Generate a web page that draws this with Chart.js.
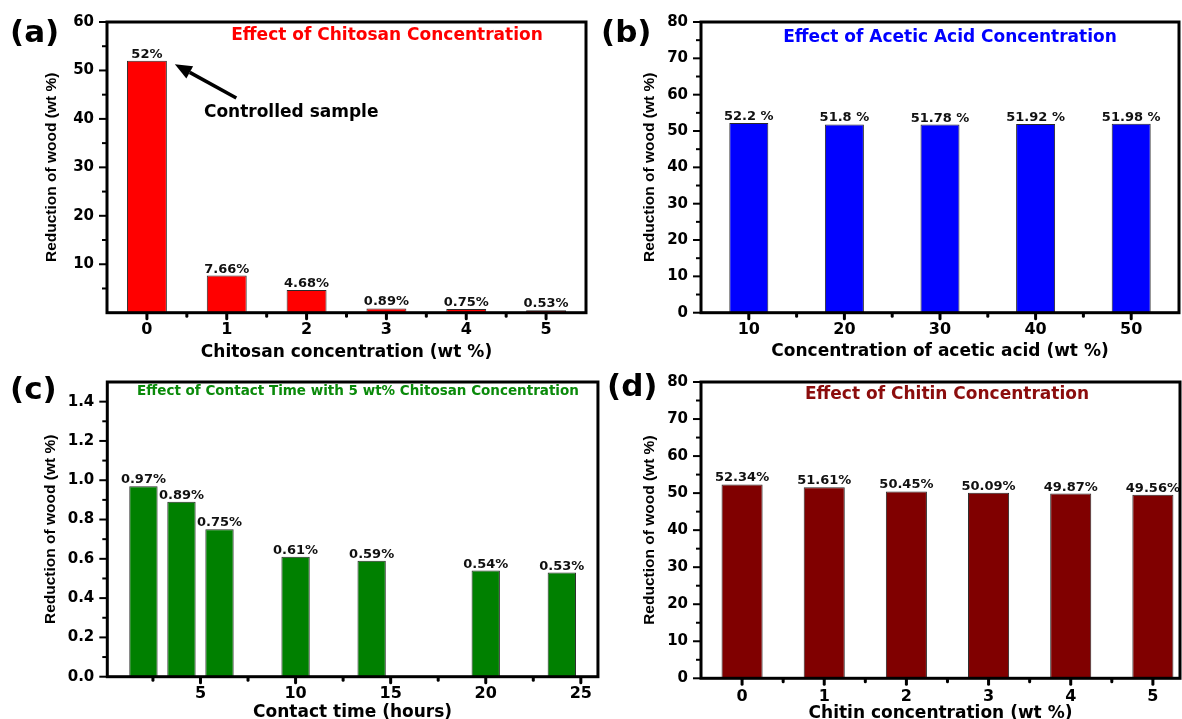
<!DOCTYPE html>
<html><head><meta charset="utf-8">
<script src="https://cdn.jsdelivr.net/npm/chart.js@4.4.0/dist/chart.umd.min.js"></script>
<style>
html,body{margin:0;padding:0;background:#fff;width:1182px;height:719px;overflow:hidden;position:relative}
canvas{position:absolute}
</style></head><body>
<canvas id="ca" width="591" height="362" style="left:0;top:0"></canvas>
<canvas id="cb" width="591" height="362" style="left:591px;top:0"></canvas>
<canvas id="cc" width="600" height="365" style="left:0;top:360px"></canvas>
<canvas id="cd" width="591" height="365" style="left:591px;top:360px"></canvas>
<script>
// ---------- data ----------
const chitosanConc = [0, 1, 2, 3, 4, 5];
const chitosanReduction = [52, 7.66, 4.68, 0.89, 0.75, 0.53];
const chitosanLabels = ['52%', '7.66%', '4.68%', '0.89%', '0.75%', '0.53%'];

const aceticConc = [10, 20, 30, 40, 50];
const aceticReduction = [52.2, 51.8, 51.78, 51.92, 51.98];
const aceticLabels = ['52.2 %', '51.8 %', '51.78 %', '51.92 %', '51.98 %'];

const contactTime = [2, 4, 6, 10, 14, 20, 24];
const contactReduction = [0.97, 0.89, 0.75, 0.61, 0.59, 0.54, 0.53];
const contactLabels = ['0.97%', '0.89%', '0.75%', '0.61%', '0.59%', '0.54%', '0.53%'];

const chitinConc = [0, 1, 2, 3, 4, 5];
const chitinReduction = [52.34, 51.61, 50.45, 50.09, 49.87, 49.56];
const chitinLabels = ['52.34%', '51.61%', '50.45%', '50.09%', '49.87%', '49.56%'];

// ---------- tick labels ----------
const aXTicks = [0, 1, 2, 3, 4, 5];
const aYTicks = [10, 20, 30, 40, 50, 60];
const bXTicks = [10, 20, 30, 40, 50];
const bYTicks = [0, 10, 20, 30, 40, 50, 60, 70, 80];
const cXTicks = [5, 10, 15, 20, 25];
const cYTicks = [0, 0.2, 0.4, 0.6, 0.8, 1.0, 1.2, 1.4];
const dXTicks = [0, 1, 2, 3, 4, 5];
const dYTicks = [0, 10, 20, 30, 40, 50, 60, 70, 80];

function minorTicks(major, min, max) {
  const step = major[1] - major[0];
  const out = major.map(v => v - step / 2);
  out.push(major[major.length - 1] + step / 2);
  return out.filter(v => v > min + 1e-9 && v < max - 1e-9);
}

const FAM = '"DejaVu Sans", "Liberation Sans", Arial, sans-serif';

const decoPlugin = {
  id: 'deco',
  afterDraw(chart, args, o) {
    const {ctx, chartArea: ca, scales: {x, y}} = chart;
    ctx.save();
    // value labels
    ctx.fillStyle = '#111';
    ctx.font = 'bold 13px ' + FAM;
    ctx.textAlign = 'center';
    ctx.textBaseline = 'alphabetic';
    chart.getDatasetMeta(0).data.forEach((bar, i) => {
      ctx.fillText(o.valueLabels[i], bar.x, bar.y - 3);
    });
    // frame
    ctx.strokeStyle = '#000';
    ctx.lineWidth = 3;
    ctx.strokeRect(ca.left, ca.top, ca.right - ca.left, ca.bottom - ca.top);
    // y ticks
    ctx.lineWidth = 2;
    o.yMajor.forEach(v => {
      const py = y.getPixelForValue(v);
      ctx.beginPath(); ctx.moveTo(ca.left - 1, py); ctx.lineTo(ca.left - 8, py); ctx.stroke();
    });
    minorTicks(o.yMajor, y.min, y.max).forEach(v => {
      const py = y.getPixelForValue(v);
      ctx.beginPath(); ctx.moveTo(ca.left - 1, py); ctx.lineTo(ca.left - 5, py); ctx.stroke();
    });
    // x ticks
    ctx.lineWidth = 3;
    ctx.lineCap = 'round';
    o.xMajor.forEach(v => {
      const px = x.getPixelForValue(v);
      ctx.beginPath(); ctx.moveTo(px, ca.bottom + 1); ctx.lineTo(px, ca.bottom + 6); ctx.stroke();
    });
    minorTicks(o.xMajor, x.min, x.max).forEach(v => {
      const px = x.getPixelForValue(v);
      ctx.beginPath(); ctx.moveTo(px, ca.bottom + 1); ctx.lineTo(px, ca.bottom + 3.5); ctx.stroke();
    });
    ctx.lineCap = 'butt';
    // inner title
    ctx.textBaseline = 'middle';
    ctx.textAlign = 'center';
    ctx.fillStyle = o.title.color;
    ctx.font = 'bold ' + o.title.size + 'px ' + FAM;
    ctx.fillText(o.title.text, o.title.x, o.title.y);
    // panel letter
    ctx.fillStyle = '#000';
    ctx.textAlign = 'left';
    ctx.font = 'bold 31px ' + FAM;
    ctx.fillText(o.letter.text, o.letter.x, o.letter.y);
    // annotation arrow
    if (o.arrow) {
      const a = o.arrow;
      const x0 = x.getPixelForValue(a.from[0]), y0 = y.getPixelForValue(a.from[1]);
      const x1 = x.getPixelForValue(a.to[0]), y1 = y.getPixelForValue(a.to[1]);
      const ang = Math.atan2(y1 - y0, x1 - x0);
      const hl = 17, hw = 7;
      const bx = x1 - hl * Math.cos(ang), by = y1 - hl * Math.sin(ang);
      ctx.strokeStyle = '#000';
      ctx.lineWidth = 3.5;
      ctx.beginPath(); ctx.moveTo(x0, y0); ctx.lineTo(bx, by); ctx.stroke();
      ctx.beginPath();
      ctx.moveTo(x1, y1);
      ctx.lineTo(bx + hw * Math.sin(ang), by - hw * Math.cos(ang));
      ctx.lineTo(bx - hw * Math.sin(ang), by + hw * Math.cos(ang));
      ctx.closePath(); ctx.fillStyle = '#000'; ctx.fill();
      ctx.font = 'bold 17px ' + FAM;
      ctx.textAlign = 'left';
      ctx.fillText(a.text, x.getPixelForValue(a.textAt[0]), y.getPixelForValue(a.textAt[1]));
    }
    ctx.restore();
  }
};

function makeChart(id, c) {
  return new Chart(document.getElementById(id), {
    type: 'bar',
    data: {
      datasets: [{
        data: c.xs.map((v, i) => ({x: v, y: c.ys[i]})),
        backgroundColor: c.color,
        borderColor: '#2a2a2a',
        borderWidth: 1,
        categoryPercentage: 1,
        barPercentage: c.barPct
      }]
    },
    options: {
      responsive: false,
      animation: false,
      devicePixelRatio: 1,
      layout: {padding: c.padding},
      plugins: {
        legend: {display: false},
        tooltip: {enabled: false},
        deco: {valueLabels: c.labels, xMajor: c.xTicks, yMajor: c.yTicks, title: c.title, letter: c.letter, arrow: c.arrow}
      },
      scales: {
        x: {
          type: 'linear', position: 'bottom', min: c.xMin, max: c.xMax, offset: false,
          grid: {display: false, drawTicks: false}, border: {display: false},
          afterBuildTicks: s => { s.ticks = c.xTicks.map(v => ({value: v})); },
          afterFit: s => { s.height = c.xH; },
          ticks: {padding: c.xTickPad, color: '#000', autoSkip: false, maxRotation: 0, minRotation: 0,
                  font: {family: FAM, weight: 'bold', size: 16}, callback: v => String(v)},
          title: {display: true, text: c.xTitle, color: '#000',
                  font: {family: FAM, weight: 'bold', size: 17, lineHeight: 1},
                  padding: {top: 0, bottom: c.xTitlePad}}
        },
        y: {
          type: 'linear', position: 'left', min: c.yMin, max: c.yMax,
          grid: {display: false, drawTicks: false}, border: {display: false},
          afterBuildTicks: s => { s.ticks = c.yTicks.map(v => ({value: v})); },
          afterFit: s => { s.width = c.yW; },
          ticks: {padding: 13, color: '#000', autoSkip: false,
                  font: {family: FAM, weight: 'bold', size: 15}, callback: c.yFmt || (v => String(v))},
          title: {display: true, text: 'Reduction of wood (wt %)', color: '#000',
                  font: {family: '"Liberation Sans", Arial, sans-serif', weight: 'bold', size: 15.5, lineHeight: 1},
                  padding: {top: c.yTitlePad, bottom: 0}}
        }
      }
    },
    plugins: [decoPlugin]
  });
}

makeChart('ca', {
  xs: chitosanConc, ys: chitosanReduction, labels: chitosanLabels, color: '#ff0000',
  xMin: -0.5, xMax: 5.5, yMin: 0, yMax: 60, xTicks: aXTicks, yTicks: aYTicks,
  barPct: 0.5, padding: {top: 21, right: 5, left: 0, bottom: 0}, yW: 107, xH: 49.3,
  xTickPad: 8, xTitlePad: 1, yTitlePad: 44,
  xTitle: 'Chitosan concentration (wt %)',
  title: {text: 'Effect of Chitosan Concentration', color: '#ff0000', x: 387, y: 36, size: 17},
  letter: {text: '(a)', x: 10, y: 34},
  arrow: {from: [1.12, 44.3], to: [0.35, 51.3], text: 'Controlled sample', textAt: [0.714, 41.3]}
});

makeChart('cb', {
  xs: aceticConc, ys: aceticReduction, labels: aceticLabels, color: '#0000ff',
  xMin: 5, xMax: 55, yMin: 0, yMax: 80, xTicks: bXTicks, yTicks: bYTicks,
  barPct: 0.408, padding: {top: 20.7, right: 3, left: 0, bottom: 0}, yW: 110, xH: 49.3,
  xTickPad: 8, xTitlePad: 2, yTitlePad: 51,
  xTitle: 'Concentration of acetic acid (wt %)',
  title: {text: 'Effect of Acetic Acid Concentration', color: '#0000ff', x: 359, y: 38, size: 17},
  letter: {text: '(b)', x: 10, y: 34}
});

makeChart('cc', {
  xs: contactTime, ys: contactReduction, labels: contactLabels, color: '#008000',
  xMin: 0.1, xMax: 25.9, yMin: 0, yMax: 1.5, xTicks: cXTicks, yTicks: cYTicks,
  barPct: 0.745, padding: {top: 15, right: 1, left: 0, bottom: 0}, yW: 107.3, xH: 48.3,
  xTickPad: 8, xTitlePad: 4, yTitlePad: 43, yFmt: v => Number(v).toFixed(1),
  xTitle: 'Contact time (hours)',
  title: {text: 'Effect of Contact Time with 5 wt% Chitosan Concentration', color: '#0a8a0a', x: 358, y: 31, size: 13.5},
  letter: {text: '(c)', x: 10, y: 31}
});

makeChart('cd', {
  xs: chitinConc, ys: chitinReduction, labels: chitinLabels, color: '#800000',
  xMin: -0.5, xMax: 5.33, yMin: 0, yMax: 80, xTicks: dXTicks, yTicks: dYTicks,
  barPct: 0.5, padding: {top: 15.7, right: 2, left: 0, bottom: 0}, yW: 110, xH: 46.7,
  xTickPad: 9, xTitlePad: 3, yTitlePad: 51,
  xTitle: 'Chitin concentration (wt %)',
  title: {text: 'Effect of Chitin Concentration', color: '#8b0d0d', x: 356, y: 34.6, size: 17},
  letter: {text: '(d)', x: 16, y: 28}
});
</script>
</body></html>
